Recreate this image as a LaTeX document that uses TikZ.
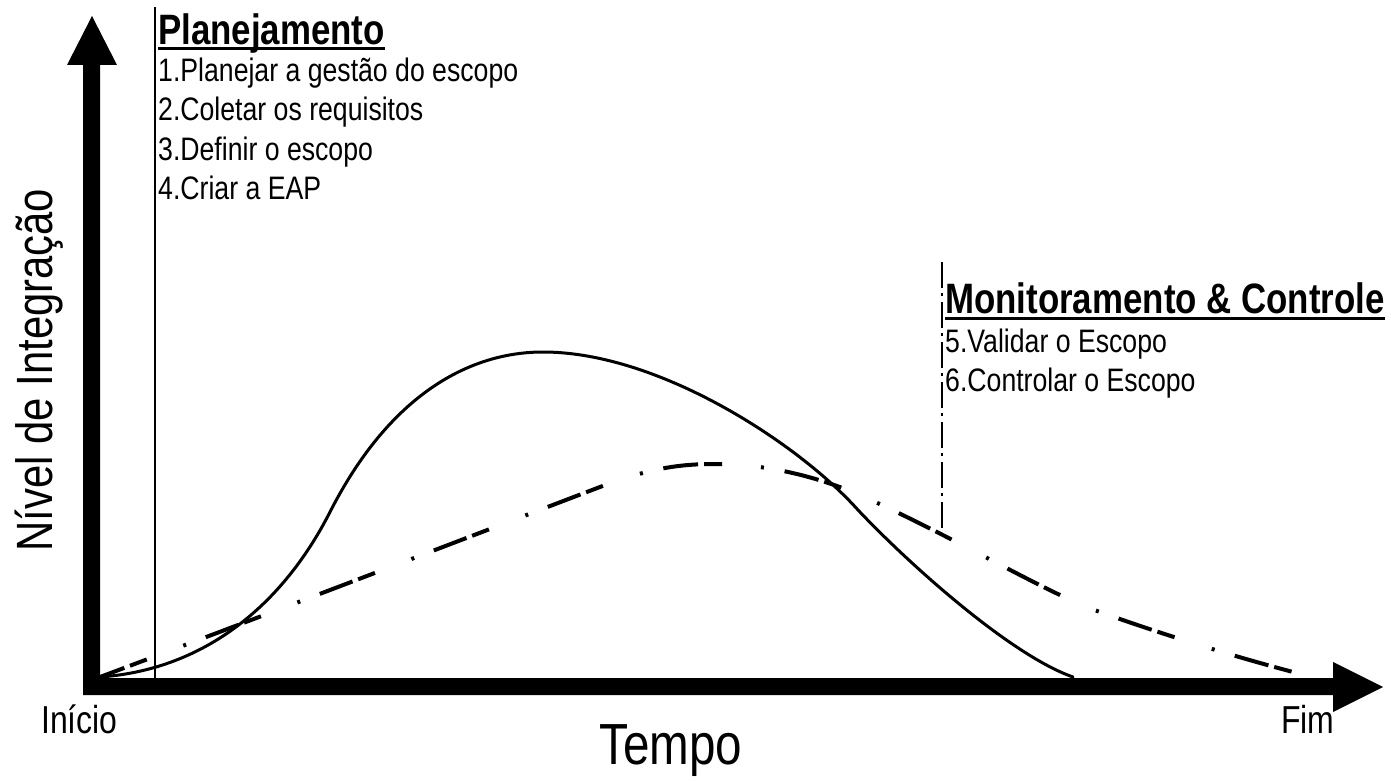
\documentclass[tikz,border=0pt]{standalone}
\usepackage{fontspec}
\setmainfont[FakeStretch=0.82]{Liberation Sans}
\begin{document}
\begin{tikzpicture}[x=1pt,y=1pt,
  txt/.style={inner sep=0pt, anchor=base west, font=\fontsize{32.5}{38}\selectfont},
  head/.style={inner sep=0pt, anchor=base west, font=\fontsize{42.5}{50}\selectfont\bfseries},
  lbl/.style={inner sep=0pt, font=\fontsize{39}{46}\selectfont},
  curveA/.style={line width=3pt, line cap=round},
  curveB/.style={line width=4pt, dash pattern=on 3pt off 21pt on 35pt off 6pt on 18pt off 39pt, dash phase=33pt},
  phase/.style={line width=2.6pt}]
\useasboundingbox (0,0) rectangle (1391,-781);
\fill[white] (0,0) rectangle (1391,-781);

% axes
\coordinate (O) at (83,-695);
\coordinate (ytip) at (92,-16);
\coordinate (xtip) at (1383,-687);
\fill (O) -- (83,-65) -- (67,-65) -- (ytip) -- (117,-65) -- (100,-65) -- (100,-678)
  -- (1333,-678) -- (1333,-662) -- (xtip) -- (1333,-712) -- (1333,-695) -- cycle;

% planning line
\coordinate (pl1) at (155,-7);
\coordinate (pl2) at (155,-678);
\draw[phase] (pl1) -- (pl2);

% monitoring line
\coordinate (mc1) at (942,-262);
\coordinate (mc2) at (942,-532);
\draw[line width=2.6pt, dash pattern=on 26pt off 5pt on 3pt off 6pt] (mc1) -- (mc2);

% solid curve
\coordinate (s0) at (100,-677);
\coordinate (s1) at (330,-512);
\coordinate (s2) at (543,-352);
\coordinate (s3) at (858,-510);
\coordinate (s4) at (1073,-677);
\draw[curveA] (s0) .. controls (200,-670) and (280,-610) .. (s1)
  .. controls (390,-394) and (470,-352) .. (s2)
  .. controls (660,-352) and (800,-445) .. (s3)
  .. controls (908,-563) and (1010,-655) .. (s4);

% dash-dot curve
\coordinate (d0) at (100,-677);
\coordinate (d1) at (600,-487);
\coordinate (d2) at (715,-464);
\coordinate (d3) at (860,-495);
\coordinate (d4) at (1100,-612);
\coordinate (d5) at (1293,-672);
\draw[curveB] (d0) .. controls (300,-602) and (500,-525) .. (d1)
  .. controls (650,-468) and (680,-464) .. (d2)
  .. controls (770,-464) and (820,-478) .. (d3)
  .. controls (960,-540) and (1050,-595) .. (d4)
  .. controls (1170,-637) and (1240,-658) .. (d5);

% headings and items
\node[head] (plan) at (158,-45) {Planejamento};
\draw[line width=3pt] ([yshift=-4pt]plan.base west) -- ([yshift=-4pt]plan.base east);
\node[txt] (p1) at (158,-82) {1.Planejar a gestão do escopo};
\node[txt] (p2) at (158,-121) {2.Coletar os requisitos};
\node[txt] (p3) at (158,-160) {3.Definir o escopo};
\node[txt] (p4) at (158,-199) {4.Criar a EAP};

\node[head] (mon) at (945,-313) {Monitoramento \& Controle};
\draw[line width=3pt] ([yshift=-5pt]mon.base west) -- ([yshift=-5pt]mon.base east);
\node[txt] (m1) at (945,-352) {5.Validar o Escopo};
\node[txt] (m2) at (945,-391) {6.Controlar o Escopo};

% axis labels
\node[inner sep=0pt, anchor=base, rotate=90, font=\fontsize{51}{60}\selectfont] (ylab) at (52,-370) {Nível de Integração};
\node[inner sep=0pt, anchor=base, font=\fontsize{58}{70}\selectfont] (xlab) at (671,-764) {Tempo};
\node[lbl, anchor=base west] (ini) at (41,-733) {Início};
\node[lbl, anchor=base west] (fim) at (1281,-733) {Fim};
\end{tikzpicture}
\end{document}
